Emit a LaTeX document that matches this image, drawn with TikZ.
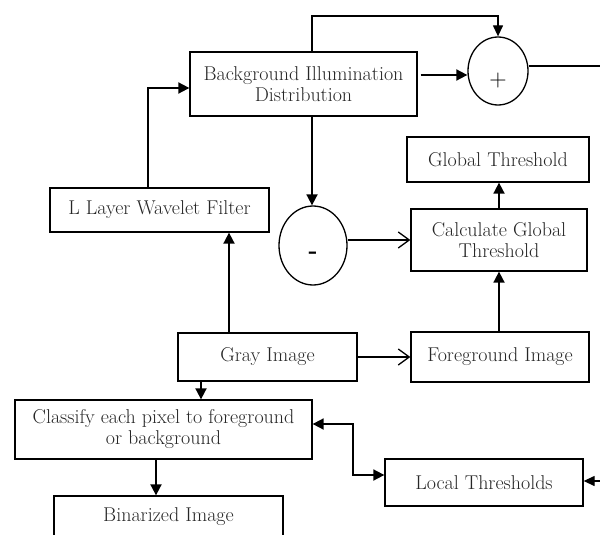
\documentclass[tikz,border=0pt]{standalone}
\usepackage{tikz}
\usetikzlibrary{arrows.meta,shapes.geometric,positioning}

\tikzset{
  block/.style={draw, line width=1.3pt, rectangle, inner sep=2pt, align=center,
    text=black!85, font=\fontsize{20}{21}\selectfont},
  op/.style={draw, line width=1.3pt, ellipse, inner sep=0pt},
  flow/.style={line width=1.8pt, -{Triangle[length=11pt,width=11pt]}},
  thinflow/.style={line width=1.3pt, -{Triangle[length=11pt,width=10pt]}},
  feed/.style={line width=1.3pt, -{Straight Barb[length=11pt,width=16pt]}},
}

\begin{document}
\begin{tikzpicture}[x=1pt,y=-1pt]
        \useasboundingbox (0,0) rectangle (600,535);
        % blocks
        \node[block, minimum width=227pt, minimum height=64pt] (bid) at (303.5,84) {Background Illumination\\Distribution};
        \node[op, minimum width=60pt, minimum height=68pt, text height=30pt, text depth=0pt,
          font=\fontsize{24}{24}\selectfont] (plus) at (498,71) {+};
        \node[block, minimum width=219pt, minimum height=44pt] (wavelet) at (159.5,210) {L Layer Wavelet Filter};
        \node[op, minimum width=68pt, minimum height=79pt, text height=26pt, text depth=0pt,
          font=\fontsize{24}{24}\bfseries] (minus) at (313,245.5) {-};
        \node[block, minimum width=182pt, minimum height=45pt] (gt) at (498,159.5) {Global Threshold};
        \node[block, minimum width=176pt, minimum height=62pt] (cgt) at (499,240) {Calculate Global\\Threshold};
        \node[block, minimum width=179pt, minimum height=48pt] (gray) at (267.5,357) {Gray Image};
        \node[block, minimum width=178pt, minimum height=50pt] (fg) at (500,357) {Foreground Image};
        \node[block, minimum width=297pt, minimum height=59pt] (classify) at (163.5,429.5) {Classify each pixel to foreground\\or background};
        \node[block, minimum width=229pt, minimum height=42pt] (bin) at (168.5,517) {Binarized Image};
        \node[block, minimum width=198pt, minimum height=47pt] (lt) at (484,482.5) {Local Thresholds};
        % bends
        \coordinate (topline) at (400,16);
        \coordinate (rightedge) at (606,300);
        \coordinate (elbow) at (353,450);
        % connectors
        \draw[flow] ([xshift=-11.5pt]wavelet.north) |- ([yshift=-4pt]bid.west);
        \draw[flow] ([shift={(3pt,9pt)}]bid.east) -- ([yshift=-4pt]plus.west);
        \draw[thinflow] ([xshift=8.5pt]bid.north) |- (topline) -| (plus.north);
        \draw[thinflow] ([yshift=5pt]plus.east) -| (rightedge) |- ([yshift=1.5pt]lt.east);
        \draw[flow] ([xshift=8.5pt]bid.south) -- ([xshift=8.5pt]bid.south |- minus.north);
        \draw[feed] (cgt.west -| minus.east) -- (cgt.west);
        \draw[flow] (cgt.north) -- (gt.south -| cgt.north);
        \draw[flow] (cgt.south |- fg.north) -- (cgt.south);
        \draw[feed] (gray.east) -- (fg.west |- gray.east);
        \draw[flow] ([xshift=-38.5pt]gray.north) -- ([xshift=-38.5pt]gray.north |- wavelet.south);
        \draw[flow] ([xshift=-66.5pt]gray.south) -- ([xshift=-66.5pt]gray.south |- classify.north);
        \draw[flow] ([xshift=-7.5pt]classify.south) -- ([xshift=-7.5pt]classify.south |- bin.north);
        \draw[flow, {Triangle[length=11pt,width=11pt]}-{Triangle[length=11pt,width=11pt]}]
          ([yshift=5.5pt]classify.east) -| (elbow) |- ([yshift=7.5pt]lt.west);
\end{tikzpicture}
\end{document}
